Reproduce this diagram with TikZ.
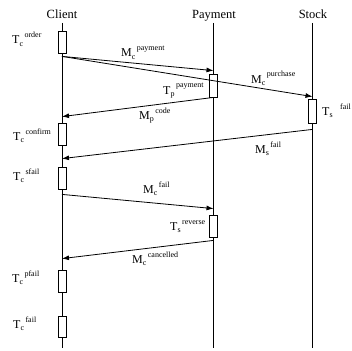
\documentclass[tikz,border=0pt]{standalone}
\usepackage{fontspec}
\setmainfont{Liberation Serif}
\usetikzlibrary{arrows.meta,calc}
\newcommand{\seqEvt}[3]{#1{\fontsize{8}{8}\selectfont\raisebox{-2.5pt}{#2}\hspace{1.5pt}\raisebox{6pt}{#3}}}
\tikzset{
	seqHead/.style={
		font=\fontsize{12.5}{14}\selectfont,
		inner sep=0pt,
		anchor=base
	},
	seqLife/.style={line width=0.8pt},
	seqAct/.style={
		draw,
		line width=0.8pt,
		fill=white,
		minimum width=8pt,
		minimum height=22pt,
		inner sep=0pt
	},
	seqLabel/.style={
		font=\fontsize{12}{14}\selectfont,
		inner sep=0pt,
		anchor=base west
	},
	seqMsg/.style={-{Latex[length=7pt,width=5pt]}, line width=0.8pt}
}
\begin{document}
\begin{tikzpicture}[x=1pt, y=-1pt]
			\useasboundingbox (0,0) rectangle (352,350);

			% Participants
			\node[seqHead] (client) at (62,18.5) {Client};
			\node[seqHead] (payment) at (214,18.5) {Payment};
			\node[seqHead] (stock) at (313,18.5) {Stock};

			\coordinate (clientTop) at (62,23);
			\coordinate (clientEnd) at (62,348);
			\coordinate (paymentTop) at (213.5,23);
			\coordinate (paymentEnd) at (213.5,348);
			\coordinate (stockTop) at (312.5,23);
			\coordinate (stockEnd) at (312.5,348);

			\draw[seqLife] (clientTop) -- (clientEnd);
			\draw[seqLife] (paymentTop) -- (paymentEnd);
			\draw[seqLife] (stockTop) -- (stockEnd);

			% Activations
			\node[seqAct] (order) at (62,42) {};
			\node[seqAct, minimum height=23pt] (pay) at (213.5,85.5) {};
			\node[seqAct, minimum height=24pt] (sfailS) at (312.5,111) {};
			\node[seqAct] (confirm) at (62,134) {};
			\node[seqAct] (sfail) at (62,178) {};
			\node[seqAct] (reverse) at (213.5,226) {};
			\node[seqAct] (pfail) at (62,281) {};
			\node[seqAct, minimum height=21pt] (fail) at (62,326.5) {};

			% Messages
			\draw[seqMsg] ($(order.south)+(0,3)$) -- ($(pay.north)+(0,-3)$);
			\draw[seqMsg] ($(order.south)+(0,3)$) -- ($(sfailS.north)+(0,-2)$);
			\draw[seqMsg] (pay.south) -- ($(confirm.north)+(0,-6)$);
			\draw[seqMsg] ($(sfailS.south)+(0,6)$) -- ($(sfail.north)+(0,-8)$);
			\draw[seqMsg] ($(sfail.south)+(0,5)$) -- ($(reverse.north)+(0,-6)$);
			\draw[seqMsg] ($(reverse.south)+(0,3)$) -- ($(pfail.north)+(0,-11)$);

			% Labels
			\node[seqLabel] (lOrder) at (12,44) {\seqEvt{T}{c}{order}};
			\node[seqLabel] (lPayMsg) at (121,57) {\seqEvt{M}{c}{payment}};
			\node[seqLabel] (lPay) at (163,94) {\seqEvt{T}{p}{payment}};
			\node[seqLabel] (lPurchase) at (251,83) {\seqEvt{M}{c}{purchase}};
			\node[seqLabel] (lSfailS) at (322,115) {\seqEvt{T}{s}{\hspace{6pt}fail}};
			\node[seqLabel] (lCode) at (139,119) {\seqEvt{M}{p}{code}};
			\node[seqLabel] (lConfirm) at (13,140) {\seqEvt{T}{c}{confirm}};
			\node[seqLabel] (lFailMsgS) at (255,153) {\seqEvt{M}{s}{fail}};
			\node[seqLabel] (lSfail) at (13,180) {\seqEvt{T}{c}{sfail}};
			\node[seqLabel] (lFailMsgC) at (143,193) {\seqEvt{M}{c}{fail}};
			\node[seqLabel] (lReverse) at (170,230) {\seqEvt{T}{s}{reverse}};
			\node[seqLabel] (lCancelled) at (132,263) {\seqEvt{M}{c}{cancelled}};
			\node[seqLabel] (lPfail) at (12,282) {\seqEvt{T}{c}{pfail}};
			\node[seqLabel] (lFail) at (13,328) {\seqEvt{T}{c}{fail}};

\end{tikzpicture}
\end{document}
